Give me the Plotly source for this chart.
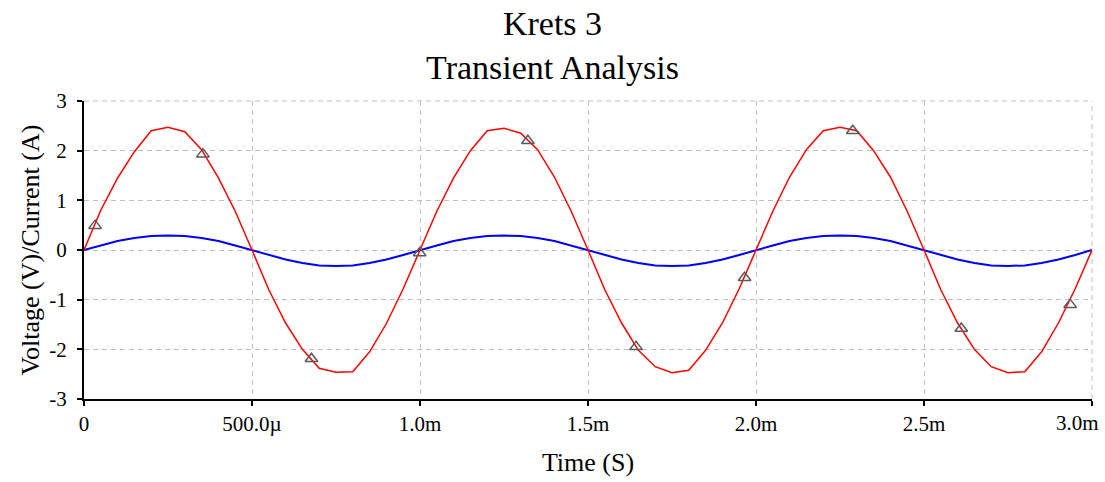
import plotly.graph_objects as go

# Time in milliseconds
time_ms = [0.00, 0.05, 0.10, 0.15, 0.20, 0.25, 0.30, 0.35, 0.40, 0.45,
           0.50, 0.55, 0.60, 0.65, 0.70, 0.75, 0.80, 0.85, 0.90, 0.95,
           1.00, 1.05, 1.10, 1.15, 1.20, 1.25, 1.30, 1.35, 1.40, 1.45,
           1.50, 1.55, 1.60, 1.65, 1.70, 1.75, 1.80, 1.85, 1.90, 1.95,
           2.00, 2.05, 2.10, 2.15, 2.20, 2.25, 2.30, 2.35, 2.40, 2.45,
           2.50, 2.55, 2.60, 2.65, 2.70, 2.75, 2.80, 2.85, 2.90, 2.95,
           3.00]

voltage = [0.00, 0.80, 1.45, 1.98, 2.40, 2.47, 2.38, 2.02, 1.45, 0.78,
           0.00, -0.80, -1.47, -2.00, -2.38, -2.46, -2.45, -2.05, -1.48, -0.78,
           0.00, 0.78, 1.45, 2.00, 2.40, 2.45, 2.35, 2.02, 1.47, 0.78,
           0.00, -0.80, -1.47, -2.02, -2.35, -2.47, -2.42, -2.02, -1.47, -0.78,
           0.00, 0.78, 1.47, 2.02, 2.40, 2.47, 2.40, 2.00, 1.47, 0.78,
           0.00, -0.80, -1.47, -2.00, -2.35, -2.47, -2.45, -2.05, -1.47, -0.78,
           0.00]

current = [0.00, 0.09, 0.18, 0.24, 0.28, 0.29, 0.28, 0.24, 0.18, 0.09,
           0.00, -0.10, -0.19, -0.26, -0.31, -0.32, -0.31, -0.26, -0.19, -0.10,
           0.00, 0.09, 0.18, 0.24, 0.28, 0.29, 0.28, 0.24, 0.18, 0.09,
           0.00, -0.10, -0.19, -0.26, -0.31, -0.32, -0.31, -0.26, -0.19, -0.10,
           0.00, 0.09, 0.18, 0.24, 0.28, 0.29, 0.28, 0.24, 0.18, 0.09,
           0.00, -0.10, -0.19, -0.26, -0.31, -0.32, -0.31, -0.26, -0.19, -0.10,
           0.00]

marker_t = [0.033, 0.354, 0.677, 0.999, 1.321, 1.643, 1.966, 2.288, 2.611, 2.935]
marker_v = [0.49, 1.93, -2.19, -0.06, 2.20, -1.95, -0.56, 2.40, -1.58, -1.10]

x_tickvals = [0, 0.5, 1.0, 1.5, 2.0, 2.5, 3.0]
x_ticktext = ["0", "500.0\u00b5", "1.0m", "1.5m", "2.0m", "2.5m", "3.0m"]
y_tickvals = [-3, -2, -1, 0, 1, 2, 3]
y_ticktext = ["-3", "-2", "-1", "0", "1", "2", "3"]

FONT = "Liberation Serif, Times New Roman, serif"
GRID_COLOR = "#c0c0c0"
GRID_DASH = "5px,4px"

fig = go.Figure()
fig.add_trace(go.Scatter(x=time_ms, y=current, mode="lines",
                         line=dict(color="#0000ff", width=2), showlegend=False))
fig.add_trace(go.Scatter(x=time_ms, y=voltage, mode="lines",
                         line=dict(color="#ff0000", width=1.5), showlegend=False))
fig.add_trace(go.Scatter(x=marker_t, y=marker_v, mode="markers",
                         marker=dict(symbol="triangle-up-open", size=11,
                                     color="#5a5a5a", line=dict(width=1.5)),
                         showlegend=False))

grid = dict(showgrid=True, gridcolor=GRID_COLOR, gridwidth=1, griddash=GRID_DASH,
            zeroline=False, showline=True, linecolor="black", linewidth=2,
            ticks="outside", ticklen=5, tickcolor="black", tickwidth=2,
            automargin=False,
            tickfont=dict(family=FONT, size=21, color="black"))

# dashed border gridlines at the top and right edges of the plot area
fig.add_shape(type="line", xref="paper", yref="paper", x0=0, x1=1, y0=1, y1=1,
              line=dict(color=GRID_COLOR, width=1, dash=GRID_DASH), layer="below")
fig.add_shape(type="line", xref="paper", yref="paper", x0=1, x1=1, y0=0, y1=1,
              line=dict(color=GRID_COLOR, width=1, dash=GRID_DASH), layer="below")

# last x tick label is pulled left so it stays inside the picture, as in the reference
shown_ticktext = x_ticktext[:-1] + [""]
fig.add_annotation(text=x_ticktext[-1], xref="paper", yref="paper",
                   x=1.0, y=0, xanchor="right", yanchor="top",
                   xshift=9, yshift=-10, showarrow=False,
                   font=dict(family=FONT, size=21, color="black"))

fig.update_layout(
    width=1105, height=482,
    margin=dict(l=84, r=13, t=101, b=83, autoexpand=False),
    paper_bgcolor="white", plot_bgcolor="white",
    title=dict(text="Krets 3<br>Transient Analysis", x=0.5, xref="container",
               y=0.927, yref="container", yanchor="top",
               font=dict(family=FONT, size=34, color="black")),
    xaxis=dict(range=[0, 3], tickvals=x_tickvals, ticktext=shown_ticktext,
               title=dict(text="Time (S)", font=dict(family=FONT, size=26, color="black"),
                          standoff=18),
               **grid),
    yaxis=dict(range=[-3, 3], tickvals=y_tickvals, ticktext=y_ticktext,
               ticklabelstandoff=6,
               title=dict(text="Voltage (V)/Current (A)",
                          font=dict(family=FONT, size=26, color="black"), standoff=2),
               **grid),
)

fig.write_html("out.html")
